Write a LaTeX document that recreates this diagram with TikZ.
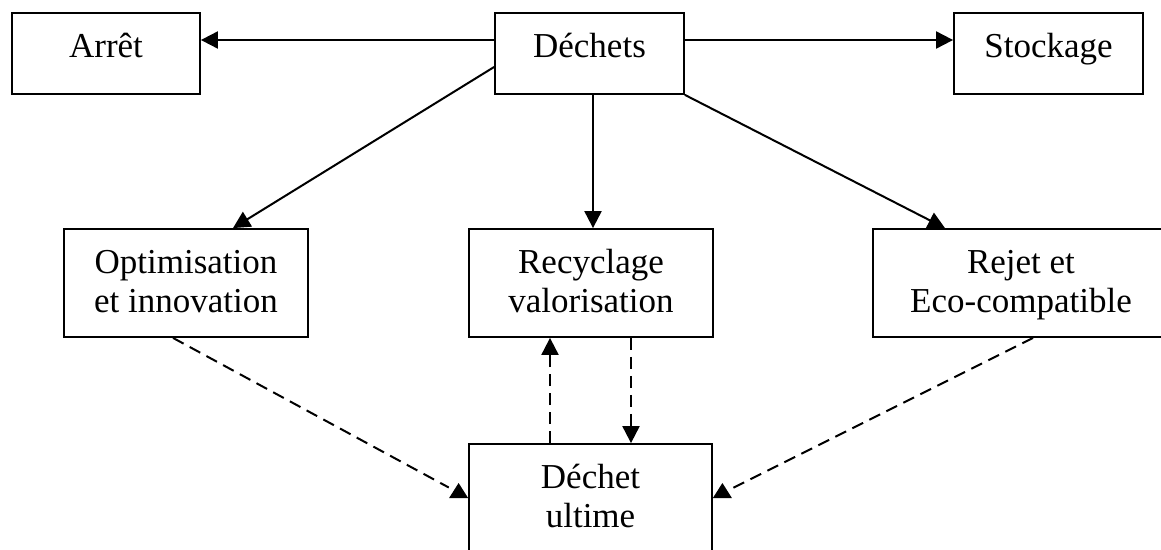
\documentclass[tikz,border=0pt]{standalone}
\usepackage{fontspec}
\setmainfont{Liberation Serif}
\usetikzlibrary{arrows.meta}
\newcommand{\mylines}[1]{\begin{tabular}[t]{@{}c@{}}#1\end{tabular}}
\tikzset{
  box/.style={draw, line width=1.8pt, inner xsep=0pt, inner ysep=0pt,
    font=\fontsize{35}{39.5}\selectfont, text height=44pt},
  smallbox/.style={box, text depth=37pt},
  bigbox/.style={box, text depth=64pt},
  arr/.style={line width=2pt, -{Triangle[length=17pt,width=17pt]}},
  darr/.style={arr, dash pattern=on 12pt off 7pt},
  dline/.style={line width=2pt, dash pattern=on 12pt off 7pt},
}
\begin{document}
\begin{tikzpicture}[x=1pt,y=-1pt]
\useasboundingbox (0,0) rectangle (1161,549);
\clip (0,0) rectangle (1161,549);
\node[smallbox, minimum width=188pt] (arret) at (106,53.5) {\mylines{Arrêt}};
\node[smallbox, minimum width=189pt] (dech) at (589.5,53.5) {\mylines{Déchets}};
\node[smallbox, minimum width=189pt] (stock) at (1048.5,53.5) {\mylines{Stockage}};
\node[bigbox, minimum width=244pt] (opt) at (186,283) {\mylines{Optimisation\\et innovation}};
\node[bigbox, minimum width=244pt] (rec) at (591,283) {\mylines{Recyclage\\valorisation}};
\node[bigbox, minimum width=296pt] (rej) at (1021,283) {\mylines{Rejet et\\Eco-compatible}};
\node[bigbox, minimum width=243pt] (ult) at (590.5,498) {\mylines{Déchet\\ultime}};
\coordinate (yl) at (0,40);
\draw[arr] (dech.west |- yl) -- (arret.east |- yl);
\draw[arr] (dech.east |- yl) -- (stock.west |- yl);
\draw[arr] ([yshift=-13.5pt]dech.west) -- ([xshift=47pt]opt.north);
\draw[arr] ([xshift=3.5pt]dech.south) -- ([xshift=2pt]rec.north);
\draw[arr] (dech.south east) -- ([xshift=-76pt]rej.north);
\draw[darr] ([xshift=-40.5pt]ult.north) -- ([xshift=-41pt]rec.south);
\draw[darr] ([xshift=40pt]rec.south) -- ([xshift=40.5pt]ult.north);
\draw[dline, shorten >=22pt] ([xshift=-13pt]opt.south) -- (ult.west);
\fill ([xshift=-19pt]ult.west) -- (ult.west) -- ([xshift=-9.5pt,yshift=15pt]ult.west) -- cycle;
\draw[dline, shorten >=22pt] ([xshift=12pt]rej.south) -- (ult.east);
\fill ([xshift=19pt]ult.east) -- (ult.east) -- ([xshift=9.5pt,yshift=15pt]ult.east) -- cycle;
\end{tikzpicture}
\end{document}
